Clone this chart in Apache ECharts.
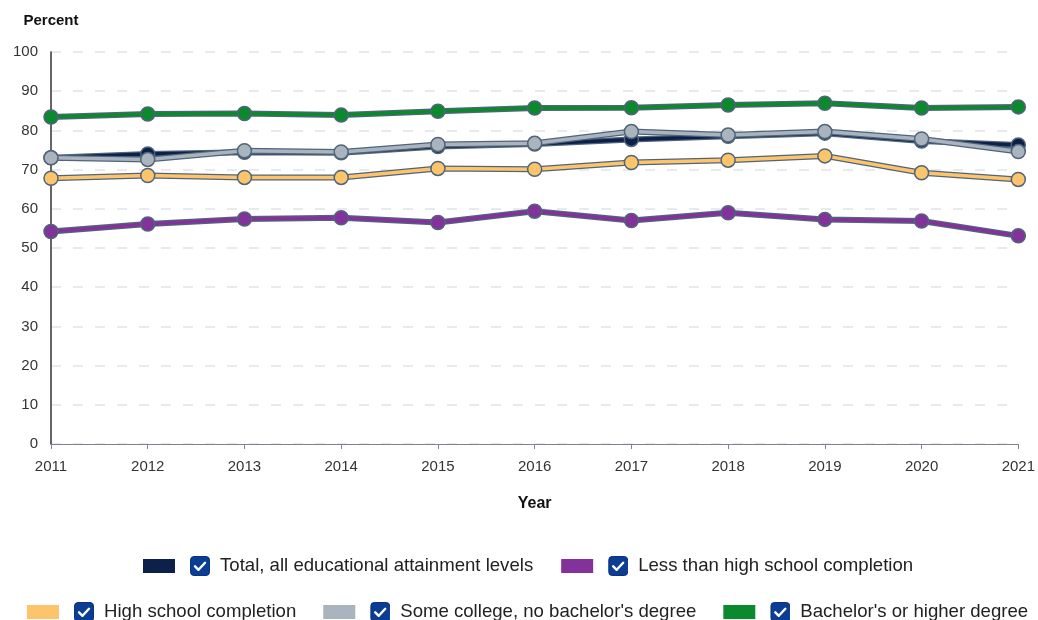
<!DOCTYPE html>
<html>
<head>
<meta charset="utf-8">
<script src="https://cdn.jsdelivr.net/npm/echarts@6/dist/echarts.min.js"></script>
<style>
  html, body { margin: 0; padding: 0; background: #fff; }
  #chart { width: 1038px; height: 620px; }
</style>
</head>
<body>
<div id="chart"></div>
<script>
const years = ['2011', '2012', '2013', '2014', '2015', '2016', '2017', '2018', '2019', '2020', '2021']
const yTicks = [0, 10, 20, 30, 40, 50, 60, 70, 80, 90, 100]

const total = [73.0, 74.0, 74.4, 74.3, 75.9, 76.5, 77.7, 78.5, 79.3, 77.3, 76.3]
const lessThanHs = [54.2, 56.1, 57.4, 57.7, 56.5, 59.4, 57.0, 59.0, 57.3, 56.9, 53.1]
const highSchool = [67.8, 68.5, 68.0, 68.0, 70.3, 70.1, 71.8, 72.4, 73.5, 69.2, 67.5]
const someCollege = [73.0, 72.6, 74.8, 74.5, 76.4, 76.7, 79.7, 78.8, 79.7, 77.8, 74.6]
const bachelors = [83.4, 84.2, 84.3, 83.9, 84.9, 85.7, 85.8, 86.5, 86.9, 85.7, 86.0]

const seriesNames = [
    'Total, all educational attainment levels',
    'Less than high school completion',
    'High school completion',
    "Some college, no bachelor's degree",
    "Bachelor's or higher degree"
]
const seriesData = [total, lessThanHs, highSchool, someCollege, bachelors]
const colors = ['#0b2149', '#84329b', '#fdc56b', '#a9b4be', '#0b8a2d']
const outline = '#50647a'

// checkbox icon for legend
const checkSvg = 'data:image/svg+xml;charset=utf-8,' + encodeURIComponent(
    '<svg xmlns="http://www.w3.org/2000/svg" width="20" height="20" viewBox="0 0 20 20">' +
    '<rect x="0.5" y="0.5" width="19" height="19" rx="3.5" fill="#0b3d94" stroke="#0a3280"/>' +
    '<path d="M5 10.3 L8.5 13.8 L15 6.8" fill="none" stroke="#fff" stroke-width="2.4" stroke-linecap="round" stroke-linejoin="round"/>' +
    '</svg>')

const chart = echarts.init(document.getElementById('chart'))

const series = []
seriesNames.forEach((name, i) => {
    // outline underneath
    series.push({
        name: name + '_outline',
        type: 'line',
        data: seriesData[i],
        symbol: 'none',
        silent: true,
        lineStyle: { color: outline, width: 6 },
        z: 2 + i * 2
    })
    series.push({
        name: name,
        type: 'line',
        data: seriesData[i],
        symbol: 'circle',
        symbolSize: 14,
        color: colors[i],
        lineStyle: { color: colors[i], width: 3.5 },
        itemStyle: { color: colors[i], borderColor: outline, borderWidth: 1.5 },
        z: 3 + i * 2
    })
})

const legendBase = {
    itemWidth: 32,
    itemHeight: 14,
    icon: 'rect',
    selectedMode: false,
    itemStyle: { borderWidth: 0 },
    formatter: name => '{sp|}{cb|}{sp2|}' + name,
    textStyle: {
        fontFamily: 'Liberation Sans, Arial, sans-serif',
        fontSize: 18.6,
        color: '#222',
        rich: {
            sp: { width: 10 },
            cb: { width: 20, height: 20, backgroundColor: { image: checkSvg } },
            sp2: { width: 10 }
        }
    }
}

const option = {
    animation: false,
    textStyle: { fontFamily: 'Liberation Sans, Arial, sans-serif' },
    grid: { left: 51, right: 17, top: 52, bottom: 176 },
    legend: [
        Object.assign({}, legendBase, { data: seriesNames.slice(0, 2), top: 551, left: 138, itemGap: 28 }),
        Object.assign({}, legendBase, { data: seriesNames.slice(2), top: 597, left: 22, itemGap: 27 })
    ],
    xAxis: {
        type: 'category',
        data: years,
        boundaryGap: false,
        name: 'Year',
        nameLocation: 'middle',
        nameGap: 52,
        nameTextStyle: { fontSize: 16, fontWeight: 'bold', color: '#111' },
        axisLine: { lineStyle: { color: '#7d848d', width: 1 } },
        axisTick: { show: true, length: 5, lineStyle: { color: '#7d848d' } },
        axisLabel: { fontSize: 15, color: '#333', margin: 15 },
        splitLine: { show: false }
    },
    yAxis: {
        type: 'value',
        min: yTicks[0],
        max: yTicks[yTicks.length - 1],
        interval: 10,
        name: 'Percent',
        nameGap: 24,
        nameTextStyle: { fontSize: 15, fontWeight: 'bold', color: '#111' },
        axisLine: { show: true, lineStyle: { color: '#333', width: 1.5 } },
        axisTick: { show: false },
        axisLabel: { fontSize: 15, color: '#333', margin: 13 },
        splitLine: { show: true, lineStyle: { color: '#dfe5ec', type: [10, 12], width: 1.5 } }
    },
    series: series
}

chart.setOption(option)
</script>
</body>
</html>
